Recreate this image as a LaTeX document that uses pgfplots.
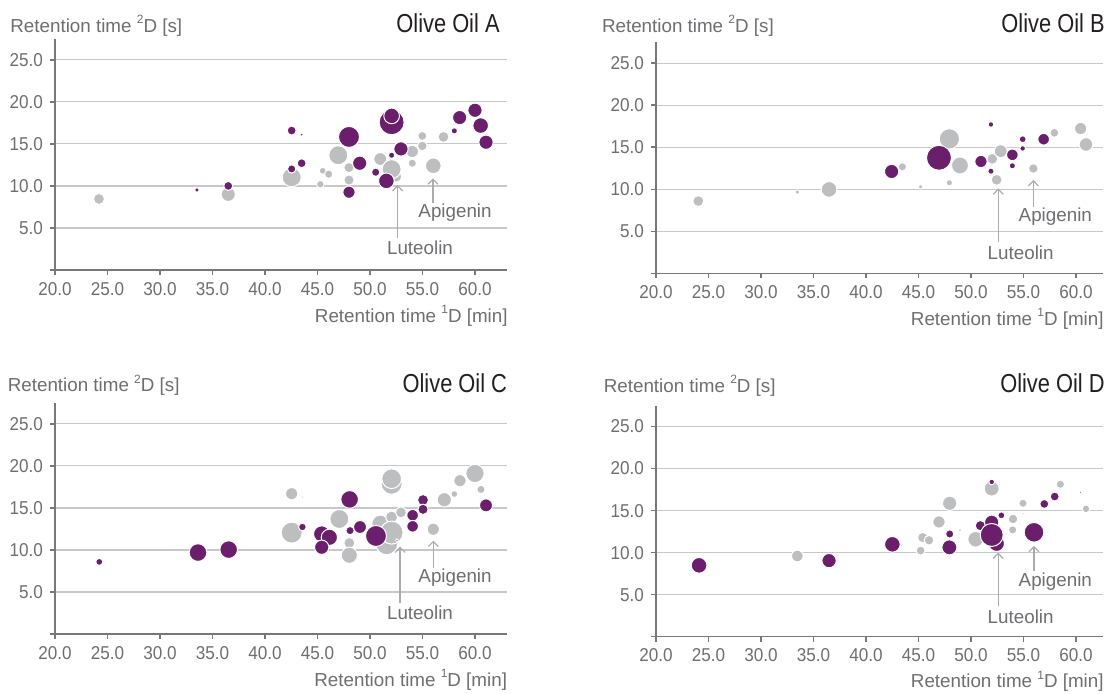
\documentclass[border=0pt]{standalone}
\usepackage{fontspec}
\setmainfont{Liberation Sans}
\newfontfamily\condfont{Liberation Sans}[FakeStretch=0.84]
\newfontfamily\tickfam{Liberation Sans}[FakeStretch=0.92]
\usepackage{pgfplots}
\usepackage{pgfplotstable}
\pgfplotsset{compat=1.18}
\usetikzlibrary{arrows.meta}
\definecolor{purp}{HTML}{6B1E6B}
\definecolor{bub}{HTML}{BDBEC0}
\definecolor{txt}{HTML}{6D6E71}
\definecolor{gridc}{HTML}{C8C8C8}
\definecolor{axc}{HTML}{77787B}
\definecolor{arrc}{HTML}{ABACAE}
\definecolor{ttl}{HTML}{231F20}
\newcommand{\supnum}[1]{\raisebox{0.85ex}{\fontsize{6}{6}\selectfont #1}}

% Panel A
\pgfplotstableread{
x y s
24.19 8.45 2.5
36.5 9.0 3.33
42.54 11.03 4.5
45.27 10.2 1.67
45.5 11.8 1.5
46.06 11.4 1.83
46.98 13.65 4.5
48.0 12.18 2.33
48.0 10.7 2.33
50.98 13.2 3.0
52.5 11.1 2.5
52.06 12.0 4.5
54.03 14.1 2.83
54.03 12.7 1.83
54.98 14.76 2.17
54.98 15.95 2.0
56.03 12.4 3.67
57.0 15.83 2.5
}\Agray
\pgfplotstableread{
x y s
33.52 9.52 0.83
36.5 10.0 2.0
42.54 16.59 2.0
43.49 16.11 0.67
42.54 12.02 1.83
43.49 12.7 2.0
48.0 15.83 5.0
48.0 9.25 2.83
49.02 12.7 3.33
50.54 11.63 1.83
52.06 13.65 1.33
52.06 17.58 6.0
52.06 18.33 3.67
51.56 10.6 3.67
52.95 14.4 3.33
58.03 16.55 1.33
58.54 18.13 3.33
60.0 19.0 3.33
60.54 17.18 3.67
61.05 15.2 3.33
}\Apurp
% Panel B
\pgfplotstableread{
x y s
24.03 8.59 2.5
33.46 9.66 0.83
36.48 9.98 3.67
43.46 12.67 1.83
45.2 10.29 0.83
47.94 15.99 4.83
47.94 10.77 1.33
48.95 12.83 4.0
52.03 13.62 2.5
52.44 11.12 2.5
52.83 14.53 3.0
55.94 12.47 2.17
57.94 16.71 2.0
60.44 17.22 2.83
60.95 15.32 3.17
}\Bgray
\pgfplotstableread{
x y s
42.44 12.11 3.33
46.95 13.74 6.0
50.95 13.3 2.83
51.9 17.7 1.17
51.9 12.15 1.33
53.94 14.09 2.67
53.94 12.79 1.33
54.92 15.95 1.5
54.92 14.85 1.17
56.92 15.95 2.67
}\Bpurp
% Panel C
\pgfplotstableread{
x y s
42.54 16.69 2.83
43.59 16.29 0.5
42.54 12.06 5.0
47.08 13.68 4.5
48.03 10.83 2.5
48.03 9.37 3.83
50.98 13.13 4.0
52.06 13.92 2.67
51.59 10.76 5.33
52.06 12.06 5.5
52.06 17.87 5.0
52.06 18.47 4.67
52.95 14.47 2.5
56.03 12.46 2.83
57.08 15.97 3.33
58.03 16.65 1.5
58.57 18.23 2.83
60.0 19.1 4.33
60.57 17.2 1.83
}\Cgray
\pgfplotstableread{
x y s
24.22 8.58 1.5
33.62 9.69 4.17
36.54 10.04 4.17
43.56 12.73 1.67
45.4 11.9 3.83
46.13 11.5 3.83
45.4 10.32 3.33
48.06 16.01 4.17
48.1 12.3 1.83
49.05 12.73 3.0
50.57 11.66 5.0
52.57 11.15 0.5
54.06 14.12 2.67
54.06 12.81 2.67
55.05 15.94 2.5
55.05 14.83 2.33
61.05 15.3 3.0
}\Cpurp
% Panel D
\pgfplotstableread{
x y s
33.46 9.6 2.67
45.2 10.24 2.0
45.4 11.79 2.33
46.0 11.47 2.17
46.95 13.65 2.83
47.97 15.87 3.33
48.95 12.66 0.67
50.44 11.59 3.67
51.97 17.62 3.5
54.0 14.0 2.17
53.97 12.7 1.83
54.95 15.87 1.83
54.95 14.64 0.5
58.51 18.13 1.83
60.95 15.2 1.67
}\Dgray
\pgfplotstableread{
x y s
24.1 8.49 3.67
36.48 9.05 3.33
42.51 10.99 3.67
47.97 12.22 1.83
47.94 10.63 3.5
50.89 13.21 2.33
51.97 13.61 3.33
52.44 11.07 3.67
51.97 12.1 5.5
51.97 18.41 1.17
52.89 14.44 1.5
56.0 12.42 4.67
56.98 15.79 2.0
57.97 16.67 2.0
60.44 17.18 0.5
}\Dpurp

\pgfplotsset{
  panel/.style={
    scale only axis, height=115.6pt, anchor=south west,
    xmin=20, ymin=0, ymax=27.5,
    axis lines=left, axis line style={-, draw=axc, line width=0.7pt},
    xtick={20,25,30,35,40,45,50,55,60},
    xticklabels={20.0,25.0,30.0,35.0,40.0,45.0,50.0,55.0,60.0},
    ytick={0,5,10,15,20,25},
    yticklabels={,5.0,10.0,15.0,20.0,25.0},
    tick align=outside, major tick length=2.5pt,
    tick style={draw=axc, line width=0.7pt},
    ymajorgrids, grid style={draw=gridc, line width=0.6pt},
    tick label style={font=\tickfam\fontsize{9.3}{11}\selectfont, text=txt},
    /pgf/number format/assume math mode=true,
    clip=false,
  },
  bubbles/.style={
    scatter, only marks, mark=*,
    scatter/use mapped color={draw=white, fill=#1},
    visualization depends on={\thisrow{s}+0.25 \as \msz},
    scatter/@pre marker code/.append style={/tikz/mark size=\msz},
    mark options={line width=0.5pt},
  },
}
\tikzset{
  annarr/.style={draw=arrc, line width=0.6pt, -{Straight Barb[length=2.5pt,width=5pt]}},
  anntxt/.style={anchor=base, text=txt, font=\fontsize{9.4}{11}\selectfont, inner sep=0pt},
  ylab/.style={anchor=base west, text=txt, font=\fontsize{9.4}{11}\selectfont, inner sep=0pt},
  xlab/.style={anchor=base east, text=txt, font=\fontsize{9.4}{11}\selectfont, inner sep=0pt},
  ttl/.style={anchor=base east, text=ttl, font=\condfont\fontsize{13}{15}\selectfont, inner sep=0pt},
}

\begin{document}
\begin{tikzpicture}
\useasboundingbox (0,0) rectangle (553.5pt,346.5pt);
% A
\begin{axis}[panel, at={(27.5pt,211.5pt)}, width=225.75pt, xmax=63]
\addplot[bubbles=bub] table[x=x,y=y] {\Agray};
\addplot[bubbles=purp] table[x=x,y=y] {\Apurp};
\draw[annarr] (axis cs:56.0,8.0) -- (axis cs:56.0,10.9);
\node[anntxt] at (axis cs:58.1,6.2) {Apigenin};
\draw[annarr] (axis cs:52.63,3.8) -- (axis cs:52.63,10.1);
\node[anntxt] at (axis cs:54.76,1.8) {Luteolin};
\end{axis}
% B
\begin{axis}[panel, at={(328pt,209.85pt)}, width=223.65pt, xmax=62.6]
\addplot[bubbles=bub] table[x=x,y=y] {\Bgray};
\addplot[bubbles=purp] table[x=x,y=y] {\Bpurp};
\draw[annarr] (axis cs:55.94,7.9) -- (axis cs:55.94,11.1);
\node[anntxt] at (axis cs:58.03,6.14) {Apigenin};
\draw[annarr] (axis cs:52.6,3.76) -- (axis cs:52.6,10.1);
\node[anntxt] at (axis cs:54.73,1.66) {Luteolin};
\end{axis}
% C
\begin{axis}[panel, at={(27.5pt,29.5pt)}, width=225.75pt, xmax=63]
\addplot[bubbles=bub] table[x=x,y=y] {\Cgray};
\addplot[bubbles=purp] table[x=x,y=y] {\Cpurp};
\draw[annarr] (axis cs:56.03,7.9) -- (axis cs:56.03,11.1);
\node[anntxt] at (axis cs:58.1,6.09) {Apigenin};
\draw[annarr] (axis cs:52.86,3.64) -- (axis cs:52.86,10.4);
\node[anntxt] at (axis cs:54.76,1.74) {Luteolin};
\end{axis}
% D
\begin{axis}[panel, at={(328pt,28.15pt)}, width=223.65pt, xmax=62.6]
\addplot[bubbles=bub] table[x=x,y=y] {\Dgray};
\addplot[bubbles=purp] table[x=x,y=y] {\Dpurp};
\draw[annarr] (axis cs:56.0,7.86) -- (axis cs:56.0,10.8);
\node[anntxt] at (axis cs:58.03,5.95) {Apigenin};
\draw[annarr] (axis cs:52.6,3.65) -- (axis cs:52.6,10.0);
\node[anntxt] at (axis cs:54.73,1.59) {Luteolin};
\end{axis}
% labels
\node[ylab] at (5pt,330.5pt) {Retention time \supnum{2}D [s]};
\node[ttl] at (250pt,330.3pt) {Olive Oil A};
\node[xlab] at (254pt,185.3pt) {Retention time \supnum{1}D [min]};
\node[ylab] at (300.8pt,330.3pt) {Retention time \supnum{2}D [s]};
\node[ttl] at (552.5pt,330.3pt) {Olive Oil B};
\node[xlab] at (552pt,184pt) {Retention time \supnum{1}D [min]};
\node[ylab] at (3.7pt,150.7pt) {Retention time \supnum{2}D [s]};
\node[ttl] at (253.7pt,150.3pt) {Olive Oil C};
\node[xlab] at (253.7pt,3.5pt) {Retention time \supnum{1}D [min]};
\node[ylab] at (301.7pt,150.3pt) {Retention time \supnum{2}D [s]};
\node[ttl] at (552.5pt,150.3pt) {Olive Oil D};
\node[xlab] at (552pt,2.6pt) {Retention time \supnum{1}D [min]};
\end{tikzpicture}
\end{document}
